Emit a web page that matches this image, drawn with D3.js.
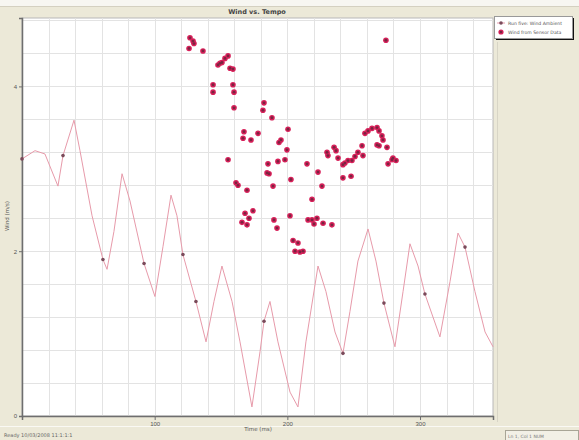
<!DOCTYPE html>
<html>
<head>
<meta charset="utf-8">
<script src="https://cdn.jsdelivr.net/npm/d3@7"></script>
<style>
  html, body { margin: 0; padding: 0; background: #ece9d8; }
  svg { display: block; font-family: "DejaVu Sans", Arial, sans-serif; }
</style>
</head>
<body>
<div id="chart"></div>
<script>
// Wind line series (time, value)
const lineX = [0, 9.8, 17.3, 27.1, 30.9, 39.2, 43.7, 52.8, 61.0, 64.1, 69.3, 75.4, 81.4, 92.0, 100.2,
  106.3, 112.3, 116.8, 121.3, 131.1, 138.7, 144.7, 150.7, 158.3, 164.3, 173.3, 179.4, 182.4, 186.9,
  192.9, 202.0, 208.0, 214.0, 223.1, 229.1, 235.9, 241.9, 247.2, 253.2, 260.8, 266.8, 272.8, 281.1,
  287.2, 292.4, 298.5, 303.7, 315.0, 322.6, 328.6, 333.9, 341.4, 349.0, 355];
const lineY = [3.12, 3.22, 3.18, 2.79, 3.16, 3.59, 3.22, 2.43, 1.90, 1.78, 2.24, 2.94, 2.61, 1.85, 1.45,
  2.06, 2.68, 2.43, 1.96, 1.39, 0.90, 1.39, 1.82, 1.39, 0.90, 0.11, 0.78, 1.15, 1.39,
  0.90, 0.29, 0.11, 0.90, 1.82, 1.51, 1.02, 0.76, 1.27, 1.88, 2.27, 1.88, 1.37, 0.84,
  1.51, 2.09, 1.82, 1.48, 0.96, 1.63, 2.22, 2.05, 1.51, 1.02, 0.84];

// Sampled markers sitting on the line
const markX = [0, 30.9, 61.0, 92.0, 121.3, 131.1, 182.4, 241.9, 272.8, 303.7, 333.9];
const markY = [3.12, 3.16, 1.90, 1.85, 1.96, 1.39, 1.15, 0.76, 1.37, 1.48, 2.05];

// Sensor scatter points
const scatX = [126.6, 128.9, 129.6, 125.9, 136.4, 147.7, 150.7, 153.0, 155.3, 156.8, 159.0, 149.2,
  144.0, 144.0, 159.0, 159.8, 159.8, 182.4, 181.6, 188.4, 167.3, 166.6, 172.6, 177.9, 200.5, 195.2,
  193.7, 199.7, 155.3, 185.4, 184.7, 186.2, 192.9, 198.2, 214.8, 223.1, 202.7, 189.2, 226.1, 161.3,
  162.8, 169.6, 218.6, 168.1, 174.1, 171.1, 165.8, 169.6, 189.9, 192.2, 202.0, 215.6, 218.6, 222.3,
  220.1, 226.9, 233.6, 204.3, 208.0, 205.8, 209.5, 211.8, 230.6, 229.9, 235.2, 236.7, 238.2, 241.9,
  243.4, 245.7, 248.7, 241.9, 248.0, 251.0, 253.2, 256.3, 257.0, 258.5, 260.8, 263.8, 267.6, 269.1,
  271.3, 272.1, 267.6, 269.1, 275.1, 275.9, 278.9, 281.9, 279.6, 274.3];
const scatY = [4.59, 4.55, 4.52, 4.46, 4.43, 4.26, 4.29, 4.34, 4.37, 4.22, 4.21, 4.28,
  4.02, 3.93, 4.02, 3.93, 3.74, 3.80, 3.71, 3.62, 3.45, 3.37, 3.35, 3.43, 3.48, 3.35,
  3.32, 3.23, 3.11, 3.06, 2.95, 2.94, 3.09, 3.11, 3.06, 2.96, 2.87, 2.79, 2.79, 2.83,
  2.80, 2.74, 2.63, 2.46, 2.49, 2.40, 2.35, 2.32, 2.38, 2.28, 2.43, 2.38, 2.38, 2.40,
  2.33, 2.34, 2.32, 2.13, 2.10, 2.00, 1.99, 2.00, 3.16, 3.20, 3.26, 3.22, 3.13, 3.05,
  3.07, 3.10, 3.10, 2.89, 2.91, 3.15, 3.20, 3.28, 3.16, 3.43, 3.46, 3.49, 3.50, 3.46,
  3.40, 3.35, 3.29, 3.28, 3.26, 3.06, 3.11, 3.10, 3.13, 4.56];

const xTicks = [100, 200, 300];
const yTicks = [0, 2, 4];
const legendLabels = ['Run five: Wind Ambient', 'Wind from Sensor Data'];

const W = 579, H = 440;
const plot = { left: 22, right: 493, top: 18, bottom: 416 };

const svg = d3.select('#chart').append('svg').attr('width', W).attr('height', H);

// 1. Window chrome
svg.append('rect').attr('width', W).attr('height', H).attr('fill', '#ece9d8');
svg.append('rect').attr('width', W).attr('height', 6).attr('fill', '#f7f6f1');
svg.append('line').attr('x1', 0).attr('x2', W).attr('y1', 6.5).attr('y2', 6.5).attr('stroke', '#d4d0c0');
svg.append('line').attr('x1', 497.5).attr('x2', 497.5).attr('y1', 42).attr('y2', 422).attr('stroke', '#d8d5c6');
svg.append('line').attr('x1', 0).attr('x2', W).attr('y1', 426.5).attr('y2', 426.5).attr('stroke', '#faf9f4');
svg.append('text').attr('x', 4).attr('y', 437).attr('font-size', 5).attr('fill', '#666')
  .text('Ready   10/03/2008 11:1:1:1');
svg.append('rect').attr('x', 505.5).attr('y', 430.5).attr('width', 73).attr('height', 10)
  .attr('fill', '#f2f0e6').attr('stroke', '#a8a596');
svg.append('text').attr('x', 508).attr('y', 438).attr('font-size', 4.5).attr('fill', '#777')
  .text('Ln 1, Col 1   NUM');

// 2. Scales
const x = d3.scaleLinear().domain([0, 355]).range([plot.left, plot.right]);
const y = d3.scaleLinear().domain([0, 4.83]).range([plot.bottom, plot.top]);

// 3. Plot area + grid
svg.append('rect').attr('x', plot.left).attr('y', plot.top)
  .attr('width', plot.right - plot.left).attr('height', plot.bottom - plot.top)
  .attr('fill', '#fff').attr('stroke', '#b8b8b8');

const grid = svg.append('g').attr('stroke', '#e3e3e3').attr('stroke-width', 1);
grid.selectAll('.vg').data(d3.range(20, 355, 20)).enter().append('line')
  .attr('x1', d => Math.round(x(d)) + 0.5).attr('x2', d => Math.round(x(d)) + 0.5)
  .attr('y1', plot.top).attr('y2', plot.bottom);
grid.selectAll('.hg').data(d3.range(0.4, 4.83, 0.4)).enter().append('line')
  .attr('x1', plot.left).attr('x2', plot.right)
  .attr('y1', d => Math.round(y(d)) + 0.5).attr('y2', d => Math.round(y(d)) + 0.5);

// 4. Axes
const xAxis = svg.append('g').attr('transform', `translate(0,${plot.bottom})`)
  .call(d3.axisBottom(x).tickValues(xTicks).tickSize(4).tickPadding(2));
const yAxis = svg.append('g').attr('transform', `translate(${plot.left},0)`)
  .call(d3.axisLeft(y).tickValues(yTicks).tickSize(3).tickPadding(2).tickFormat(d3.format('d')));
[xAxis, yAxis].forEach(a => {
  a.select('.domain').attr('stroke', '#6e6e6e').attr('stroke-width', 1.5);
  a.selectAll('.tick line').attr('stroke', '#6e6e6e');
  a.selectAll('.tick text').attr('font-size', 6).attr('fill', '#555');
});

svg.append('text').attr('x', 257).attr('y', 14).attr('text-anchor', 'middle')
  .attr('font-size', 6.5).attr('font-weight', 'bold').attr('fill', '#444').text('Wind vs. Tempo');
svg.append('text').attr('x', 258).attr('y', 431).attr('text-anchor', 'middle')
  .attr('font-size', 5.5).attr('fill', '#555').text('Time (ms)');
svg.append('text').attr('transform', 'translate(9,216) rotate(-90)').attr('text-anchor', 'middle')
  .attr('font-size', 5.5).attr('fill', '#555').text('Wind (m/s)');

// 5. Line series
const linePts = lineX.map((d, i) => [d, lineY[i]]);
svg.append('path').datum(linePts)
  .attr('d', d3.line().x(d => x(d[0])).y(d => y(d[1])))
  .attr('fill', 'none').attr('stroke', '#e79aaa').attr('stroke-width', 1);

svg.append('g').selectAll('circle').data(markX.map((d, i) => [d, markY[i]])).enter().append('circle')
  .attr('cx', d => x(d[0])).attr('cy', d => y(d[1])).attr('r', 1.8)
  .attr('fill', '#7a4a5a');

// 6. Scatter series
const scat = svg.append('g');
const scatPts = scatX.map((d, i) => [d, scatY[i]]);
scat.selectAll('.o').data(scatPts).enter().append('circle')
  .attr('cx', d => x(d[0])).attr('cy', d => y(d[1])).attr('r', 2.8).attr('fill', '#d8205a');
scat.selectAll('.i').data(scatPts).enter().append('circle')
  .attr('cx', d => x(d[0])).attr('cy', d => y(d[1])).attr('r', 1.4).attr('fill', '#7a2440');

// 7. Legend
const lg = svg.append('g').attr('transform', 'translate(494,16)');
lg.append('rect').attr('x', 2).attr('y', 2).attr('width', 78).attr('height', 22).attr('fill', '#111');
lg.append('rect').attr('x', 0.5).attr('y', 0.5).attr('width', 78).attr('height', 22)
  .attr('fill', '#fff').attr('stroke', '#999');
legendLabels.forEach((t, i) => {
  const ly = 7 + i * 9;
  if (i === 0) {
    lg.append('line').attr('x1', 3).attr('x2', 11).attr('y1', ly).attr('y2', ly).attr('stroke', '#e79aaa');
    lg.append('circle').attr('cx', 7).attr('cy', ly).attr('r', 1.8).attr('fill', '#7a4a5a');
  } else {
    lg.append('circle').attr('cx', 7).attr('cy', ly).attr('r', 2.6).attr('fill', '#d8205a');
    lg.append('circle').attr('cx', 7).attr('cy', ly).attr('r', 1.3).attr('fill', '#7a2440');
  }
  lg.append('text').attr('x', 14).attr('y', ly + 1.7).attr('font-size', 4.6).attr('fill', '#555').text(t);
});
</script>
</body>
</html>
